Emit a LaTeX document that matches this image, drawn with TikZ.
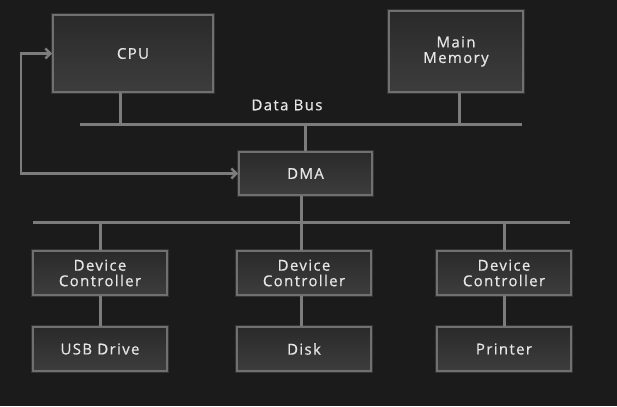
\documentclass[tikz,border=0pt]{standalone}
\usepackage{fontspec}
\setmainfont[LetterSpace=9, FakeBold=0.6]{Open Sans}
\usetikzlibrary{arrows.meta}
\definecolor{backdrop}{HTML}{1b1b1b}
\definecolor{wire}{HTML}{7c7c7c}
\definecolor{edge}{HTML}{707070}
\definecolor{boxtop}{HTML}{2a2a2a}
\definecolor{boxbottom}{HTML}{3d3d3d}
\definecolor{caption}{HTML}{e6e6e6}
\tikzset{%
    unit/.style={draw=edge, line width=1.6pt, top color=boxtop, bottom color=boxbottom,
        preaction={draw=edge, line width=4pt, opacity=0.3},
        text=caption, align=center, inner sep=0pt, font=\fontsize{15}{15.5}\selectfont},
    bus/.style={draw=wire, line width=3pt}
}

\begin{document}
\begin{tikzpicture}[x=1pt, y=-1pt, >={Straight Barb[length=5pt,width=10pt]}]
  \fill[backdrop] (0,0) rectangle (617,406);

  % memory side
  \node[unit, minimum width=160pt, minimum height=77pt] (cpu) at (133,53.5) {CPU};
  \node[unit, minimum width=134pt, minimum height=81pt] (memory) at (456,51.5) {Main\\Memory};
  \node[text=caption, font=\fontsize{15}{15.5}\selectfont] (buslabel) at (287,105) {Data Bus};

  \coordinate (upperwest) at (80,125);
  \coordinate (uppereast) at (522,125);
  \coordinate (cputap) at (120,125);
  \coordinate (memorytap) at (459,125);
  \draw[bus] (upperwest) -- (uppereast);
  \draw[bus] (cpu.south -| cputap) -- (cputap);
  \draw[bus] (memory.south -| memorytap) -- (memorytap);

  \node[unit, minimum width=133pt, minimum height=43pt] (dma) at (305.5,173.5) {DMA};
  \draw[bus] (dma.north) -- (dma.north |- upperwest);

  \coordinate (loop) at (21,0);
  \draw[bus, line width=2.6pt, <->] (dma.west) -- (dma.west -| loop) |- (cpu.west);

  % device side
  \coordinate (lowerwest) at (33,222);
  \coordinate (lowereast) at (570,222);
  \coordinate (dmatap) at (301,222);
  \draw[bus] (lowerwest) -- (lowereast);
  \draw[bus] (dma.south -| dmatap) -- (dmatap);

  \node[unit, minimum width=134pt, minimum height=44pt] (usbctl) at (100,273) {Device\\Controller};
  \node[unit, minimum width=134pt, minimum height=44pt] (diskctl) at (304,273) {Device\\Controller};
  \node[unit, minimum width=134pt, minimum height=44pt] (printerctl) at (504,273) {Device\\Controller};

  \node[unit, minimum width=134pt, minimum height=44pt] (usb) at (100,349) {USB Drive};
  \node[unit, minimum width=134pt, minimum height=44pt] (disk) at (304,349) {Disk};
  \node[unit, minimum width=134pt, minimum height=44pt] (printer) at (504,349) {Printer};

  \draw[bus] (usbctl.north) -- (usbctl.north |- lowerwest);
  \draw[bus] (diskctl.north -| dmatap) -- (dmatap);
  \draw[bus] (printerctl.north) -- (printerctl.north |- lowerwest);

  \draw[bus] (usbctl) -- (usb);
  \draw[bus] (diskctl.south -| dmatap) -- (disk.north -| dmatap);
  \draw[bus] (printerctl) -- (printer);
\end{tikzpicture}
\end{document}
